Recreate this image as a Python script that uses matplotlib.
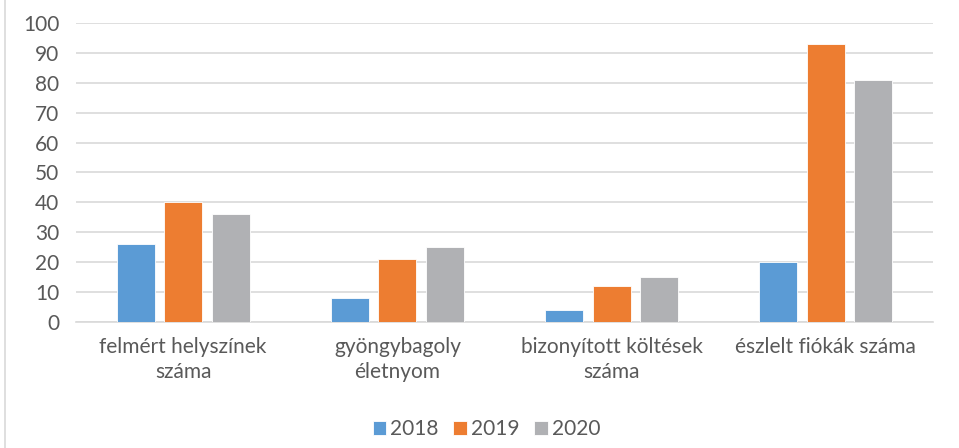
import matplotlib.pyplot as plt
import numpy as np
from matplotlib.lines import Line2D

plt.rcParams['font.family'] = ['Lato', 'DejaVu Sans']

# kategóriák és évenkénti értékek
categories = ['felmért helyszínek\nszáma', 'gyöngybagoly\néletnyom',
              'bizonyított költések\nszáma', 'észlelt fiókák száma']
years = ['2018', '2019', '2020']
v2018 = [26, 8, 4, 20]
v2019 = [40, 21, 12, 93]
v2020 = [36, 25, 15, 81]
colors = ['#5b9bd5', '#ed7d31', '#b0b1b4']

fig = plt.figure(figsize=(9.59, 4.48), dpi=100)
ax = fig.add_axes([0.0793, 0.2813, 0.8936, 0.6674])

x = np.arange(len(categories))
step = 0.222
width = 0.177
for i, (vals, c, lab) in enumerate(zip([v2018, v2019, v2020], colors, years)):
    ax.bar(x + (i - 1) * step, vals, width, color=c, label=lab,
           edgecolor='white', linewidth=0.6, zorder=3)

ax.set_xlim(-0.5, len(categories) - 0.5)
ax.set_ylim(0, 100)
ax.set_yticks(range(0, 101, 10))
ax.yaxis.grid(True, color='#d9d9d9', linewidth=1.2, zorder=0)
ax.set_axisbelow(True)
for s in ['top', 'right', 'left']:
    ax.spines[s].set_visible(False)
ax.spines['bottom'].set_color('#d9d9d9')
ax.spines['bottom'].set_linewidth(1.2)
ax.tick_params(axis='both', length=0, labelsize=15, colors='#595959')
ax.tick_params(axis='y', pad=12)
ax.tick_params(axis='x', pad=11)
ax.set_xticks(x)
ax.set_xticklabels(categories, linespacing=1.3)

ax.legend(loc='center', bbox_to_anchor=(0.479, -0.358), ncol=3, frameon=False,
          fontsize=15, labelcolor='#595959', handlelength=0.65, handleheight=0.65,
          handletextpad=0.2, columnspacing=0.7)

# bal oldali keretvonal
fig.add_artist(Line2D([0.0055, 0.0055], [0, 1], color='#d9d9d9', linewidth=1.2))

fig.savefig('out.png', dpi=100)
